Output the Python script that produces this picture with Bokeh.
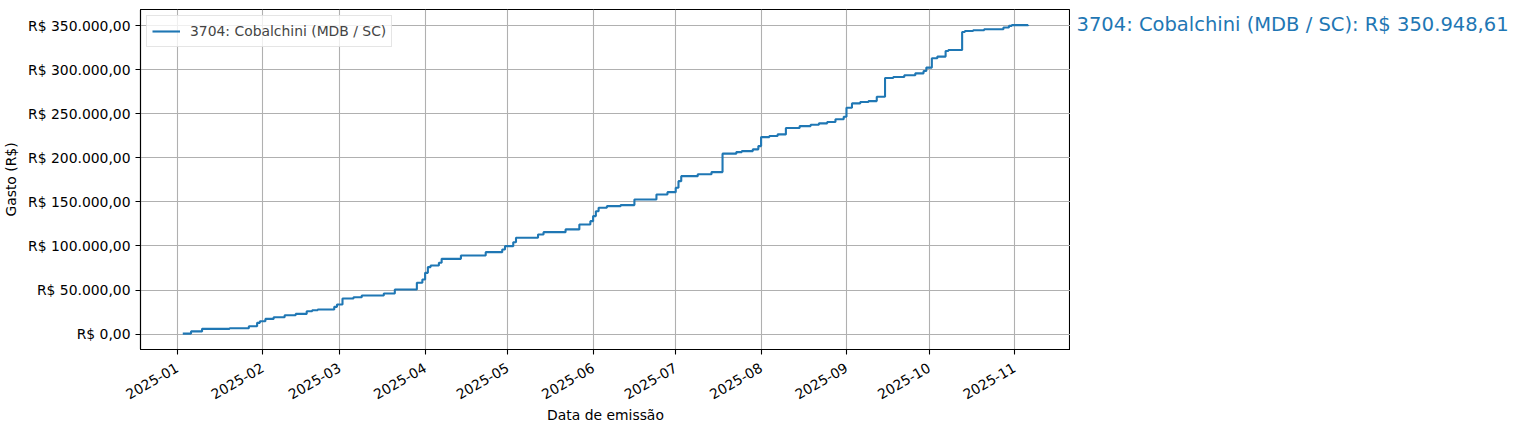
import math

import pandas as pd
from bokeh.core.properties import value
from bokeh.embed import file_html
from bokeh.layouts import row
from bokeh.models import (DatetimeTickFormatter, FixedTicker, Legend,
                          LegendItem, Range1d)
from bokeh.plotting import figure
from bokeh.resources import INLINE

# cumulative spending of the deputy
deputy = "3704: Cobalchini (MDB / SC)"

dates = [
    "2025-01-03", "2025-01-06", "2025-01-10", "2025-01-20", "2025-01-27",
    "2025-01-30", "2025-01-31", "2025-02-02", "2025-02-05", "2025-02-09",
    "2025-02-13", "2025-02-17", "2025-02-19", "2025-02-21", "2025-02-27",
    "2025-02-28", "2025-03-02", "2025-03-06", "2025-03-09", "2025-03-17",
    "2025-03-21", "2025-03-29", "2025-03-31", "2025-04-01", "2025-04-02",
    "2025-04-03", "2025-04-06", "2025-04-07", "2025-04-14", "2025-04-23",
    "2025-04-29", "2025-04-30", "2025-05-03", "2025-05-04", "2025-05-12",
    "2025-05-14", "2025-05-22", "2025-05-27", "2025-05-31", "2025-06-01",
    "2025-06-02", "2025-06-03", "2025-06-06", "2025-06-11", "2025-06-16",
    "2025-06-24", "2025-06-28", "2025-07-01", "2025-07-02", "2025-07-03",
    "2025-07-09", "2025-07-14", "2025-07-18", "2025-07-23", "2025-07-25",
    "2025-07-29", "2025-07-31", "2025-08-01", "2025-08-04", "2025-08-07",
    "2025-08-10", "2025-08-15", "2025-08-19", "2025-08-22", "2025-08-25",
    "2025-08-28", "2025-08-31", "2025-09-01", "2025-09-03", "2025-09-06",
    "2025-09-09", "2025-09-12", "2025-09-15", "2025-09-18", "2025-09-22",
    "2025-09-26", "2025-09-29", "2025-09-30", "2025-10-02", "2025-10-04",
    "2025-10-07", "2025-10-08", "2025-10-13", "2025-10-14", "2025-10-17",
    "2025-10-21", "2025-10-28", "2025-10-30", "2025-10-31", "2025-11-06",
]
totals = [
    500, 3000, 5900, 6600, 8900,
    12700, 14500, 17200, 19000, 21400,
    22900, 25900, 27000, 27800, 30900,
    33500, 40300, 41800, 43800, 46000,
    50600, 58200, 61900, 69500, 76000,
    77800, 80900, 85400, 89200, 93000,
    96000, 99800, 104300, 109300, 113000,
    115700, 118800, 124400, 128200, 133900,
    139500, 143400, 145200, 146400, 152800,
    158500, 161100, 166100, 173600, 179300,
    181500, 183900, 204800, 206600, 207700,
    209700, 213400, 223600, 224800, 226700,
    233900, 236100, 237700, 239200, 240700,
    243800, 246800, 257000, 261900, 263400,
    264500, 269500, 290700, 291800, 293800,
    296000, 298600, 302500, 313100, 315000,
    321400, 322500, 343000, 344100, 344900,
    346000, 348000, 349900, 350700, 350948.61,
]

month_ticks = ["2025-01-01", "2025-02-01", "2025-03-01", "2025-04-01",
               "2025-05-01", "2025-06-01", "2025-07-01", "2025-08-01",
               "2025-09-01", "2025-10-01", "2025-11-01"]
y_ticks = [0, 50000, 100000, 150000, 200000, 250000, 300000, 350000]

FONT = "DejaVu Sans"
BLUE = "#1f77b4"
TICK_SIZE = "13.9px"
TOP = 9


def brl(v):
    s = "{:,.2f}".format(v)
    return "R$ " + s.replace(",", "X").replace(".", ",").replace("X", ".")


x = pd.to_datetime(dates)
x_ms = x.astype("int64") // 10**6
xmin, xmax = x_ms.min(), x_ms.max()
xpad = 0.05 * (xmax - xmin)
ymax = max(totals)
ypad = 0.05 * ymax

p = figure(x_axis_type="datetime",
           frame_width=930, frame_height=340,
           min_border_left=134, min_border_right=0,
           min_border_top=TOP, min_border_bottom=64,
           x_range=Range1d(xmin - xpad, xmax + xpad),
           y_range=Range1d(-ypad, ymax + ypad),
           output_backend="svg", toolbar_location=None)

line = p.step(x, totals, mode="after", line_color=BLUE, line_width=2.1)

# grids and frame
tick_ms = [int(t.value // 10**6) for t in pd.to_datetime(month_ticks)]
p.xaxis.ticker = FixedTicker(ticks=tick_ms)
p.xgrid.ticker = FixedTicker(ticks=tick_ms)
p.yaxis.ticker = FixedTicker(ticks=y_ticks)
p.ygrid.ticker = FixedTicker(ticks=y_ticks)
p.grid.grid_line_color = "#b0b0b0"
p.grid.grid_line_width = 1.1
p.outline_line_color = "black"
p.outline_line_width = 1.1
p.outline_line_alpha = 1

p.xaxis.formatter = DatetimeTickFormatter(days="%Y-%m", months="%Y-%m", years="%Y-%m")
p.xaxis.major_label_orientation = math.pi / 6
p.yaxis.major_label_overrides = {v: brl(v) for v in y_ticks}

p.axis.axis_line_color = "black"
p.axis.axis_line_width = 1.1
p.axis.major_tick_line_color = "black"
p.axis.major_tick_line_width = 1.1
p.axis.major_tick_in = 0
p.axis.major_tick_out = 5
p.axis.minor_tick_line_color = None
p.axis.major_label_text_font = FONT
p.axis.major_label_text_font_size = TICK_SIZE
p.axis.major_label_text_color = "black"
p.axis.major_label_standoff = 5
p.xaxis.major_label_standoff = 12
p.axis.axis_label_text_font = FONT
p.axis.axis_label_text_font_size = TICK_SIZE
p.axis.axis_label_text_font_style = "normal"
p.axis.axis_label_text_color = "black"
p.axis.axis_label_standoff = 6
p.xaxis.axis_label_standoff = 0
p.xaxis.axis_label = "Data de emissão"
p.yaxis.axis_label = "Gasto (R$)"

legend = Legend(items=[LegendItem(label=deputy, renderers=[line])],
                location="top_left",
                label_text_font=FONT, label_text_font_size=TICK_SIZE,
                glyph_width=28, label_standoff=10,
                padding=5, margin=6, spacing=0,
                border_line_color="#cccccc", border_line_width=1,
                background_fill_alpha=0.8)
p.add_layout(legend)

# final total written to the right of the axes
side = figure(frame_width=440, frame_height=340,
              min_border_left=0, min_border_right=0,
              min_border_top=TOP, min_border_bottom=0,
              x_range=Range1d(0, 1), y_range=p.y_range,
              x_axis_location=None, y_axis_location=None,
              output_backend="svg", toolbar_location=None)
side.outline_line_color = None
side.grid.visible = False
side.text(x=[0], y=[totals[-1]], text=[deputy + ": " + brl(totals[-1])],
          x_offset=6, text_baseline="middle", text_align="left",
          text_font=value(FONT), text_font_size="19.5px", text_color=BLUE)

layout = row(p, side)

open("out.html", "w").write(file_html(layout, INLINE))
